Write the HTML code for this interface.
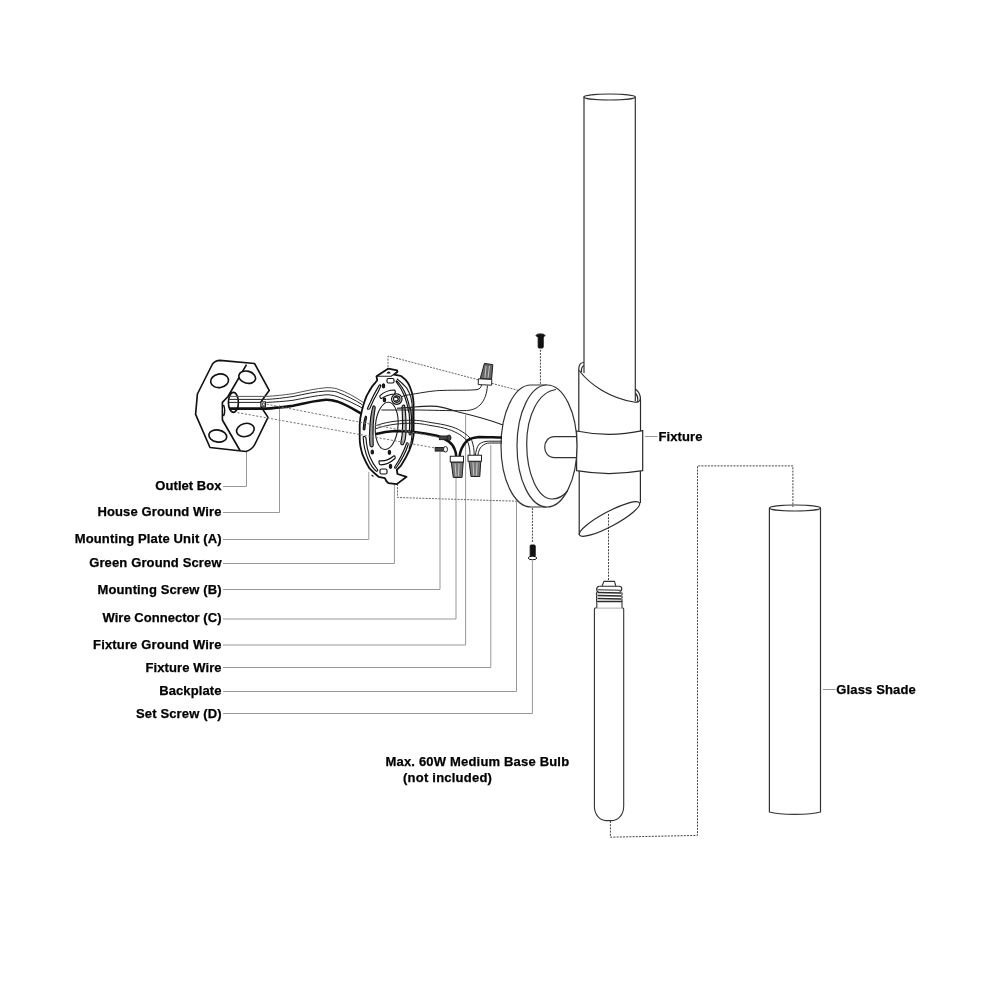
<!DOCTYPE html>
<html><head><meta charset="utf-8">
<style>
html,body{margin:0;padding:0;background:#fff;}
svg{display:block;will-change:transform;}
text{font-family:"Liberation Sans",sans-serif;font-weight:bold;font-size:13px;fill:#000;stroke:#000;stroke-width:0.25px;}
</style></head><body>
<svg width="1000" height="1000" viewBox="0 0 1000 1000">
<rect width="1000" height="1000" fill="#fff"/>

<!-- labels -->
<g text-anchor="end">
<text x="221.5" y="490" textLength="66.13" lengthAdjust="spacing">Outlet Box</text>
<text x="221.5" y="515.5" textLength="124.05" lengthAdjust="spacing">House Ground Wire</text>
<text x="221.5" y="542.5" textLength="146.80" lengthAdjust="spacing">Mounting Plate Unit (A)</text>
<text x="221.5" y="566.6" textLength="132.35" lengthAdjust="spacing">Green Ground Screw</text>
<text x="221.5" y="594" textLength="123.95" lengthAdjust="spacing">Mounting Screw (B)</text>
<text x="221.5" y="621.5" textLength="119.03" lengthAdjust="spacing">Wire Connector (C)</text>
<text x="221.5" y="648.5" textLength="128.46" lengthAdjust="spacing">Fixture Ground Wire</text>
<text x="221.5" y="671.5" textLength="75.92" lengthAdjust="spacing">Fixture Wire</text>
<text x="221.5" y="694.5" textLength="62.32" lengthAdjust="spacing">Backplate</text>
<text x="221.5" y="717.5" textLength="85.51" lengthAdjust="spacing">Set Screw (D)</text>
</g>
<text x="385.5" y="766" textLength="183.6" lengthAdjust="spacing">Max. 60W Medium Base Bulb</text>
<text x="403" y="782" textLength="88.9" lengthAdjust="spacing">(not included)</text>
<text x="658.4" y="441" textLength="44" lengthAdjust="spacing">Fixture</text>
<text x="836.2" y="694" textLength="79.6" lengthAdjust="spacing">Glass Shade</text>

<!-- leader lines -->
<g fill="none" stroke="#999" stroke-width="1">
<path d="M223,486.5H246.5V452"/>
<path d="M223,512.5H279.5V405"/>
<path d="M223,539.5H368.8V472"/>
<path d="M223,563.5H394.4V400"/>
<path d="M223,589.5H440V452"/>
<path d="M223,619H456V478"/>
<path d="M223,645H465.6V415"/>
<path d="M223,667.5H490.8V445"/>
<path d="M223,691.5H516.5V501"/>
<path d="M223,713.5H532.4V561"/>
<path d="M645,436.5H657.5"/>
<path d="M823,689.5H835.5"/>
</g>

<!-- dashed lines -->
<g fill="none" stroke="#666" stroke-width="1" stroke-dasharray="2,1.2">
<path d="M388,367V356L518.5,390.4"/>
<path d="M397.5,484V497.5L516,501.2"/>
</g>
<g fill="none" stroke="#444" stroke-width="1" stroke-dasharray="2,1.2">
<path d="M540.4,349.8V384"/>
<path d="M532.4,508V543"/>
<path d="M608.5,514V580"/>
<path d="M610.4,821V837.2L697.5,835.4V465.9H792.9V507"/>
</g>

<!-- top tube -->
<g fill="none" stroke="#333" stroke-width="1.2">
<path d="M584,97V373M635.3,97V401"/>
<ellipse cx="609.6" cy="97" rx="25.8" ry="3"/>
</g>

<!-- sleeve -->
<g fill="none" stroke="#2a2a2a" stroke-width="1.2">
<path d="M578.8,431V369C578.8,364.5 580.5,362.5 584,362.5"/>
<path d="M584,365.5C582,366.5 581.2,368.5 581.5,372"/>
<path d="M579.2,370.5C590,385 610,398 634,402C638,402.8 640.5,401 640.5,398"/>
<path d="M635.3,389C638.5,391.5 640.5,395 640.5,399V431"/>
<path d="M635.3,393C637.5,395.5 638.3,398.5 637.5,401.8"/>
</g>
<g fill="#fff" stroke="#2a2a2a" stroke-width="1.2">
<path d="M579.2,471V535 M640.4,471V503"/>
<path d="M576.6,431C598,435.5 620,435.5 642.7,430.7V470.7C620,474.5 598,474.5 576.6,470.7Z"/>
<ellipse cx="609.5" cy="519" rx="34" ry="7.3" fill="none" transform="rotate(-28.2 609.5 519)"/>
</g>

<!-- backplate -->
<g fill="#fff" stroke="#333" stroke-width="1.2">
<path d="M547,385H531C514.4,385 501,412.3 501,446C501,479.7 514.4,507 531,507H547"/>
<ellipse cx="547" cy="446" rx="30" ry="61"/>
<path fill="none" d="M556,389.5C538,392 526.7,416 526.7,444C526.7,474 538,499 552,499C558,499 563,496.5 567.5,491"/>
<path d="M576,436.7H554.5C548,436.7 544.7,442 544.7,447.2C544.7,452.5 548,457.7 554.5,457.7H576"/>
</g>

<!-- set screws -->
<g fill="#111" stroke="#111" stroke-width="1">
<rect x="538.2" y="336" width="5" height="12" rx="1"/>
<ellipse cx="540.5" cy="335.5" rx="4.4" ry="1.6"/>
<rect x="530.2" y="545" width="5" height="11.5" rx="1"/>
<ellipse cx="532.5" cy="558" rx="4.2" ry="1.8" fill="#fff"/>
</g>

<!-- bulb -->
<g fill="#fff" stroke="#333" stroke-width="1.1">
<path d="M594.4,609.5C594.4,608.3 595,607.8 596.5,607.8H621.5C623,607.8 623.7,608.3 623.7,609.5V806C623.7,815 618,820.6 612,820.6H606C600,820.6 594.4,815 594.4,806Z"/>
<path d="M596.8,607.8V601.5H622V607.8"/>
<path d="M602,586L604,581.4H614.5L615.8,586"/>
</g>
<g fill="none" stroke="#2a2a2a" stroke-width="1.1">
<path d="M599.5,586.3H619C621,586.3 621.8,587.5 621.8,589C621.8,590.5 621,591.3 619.5,591.3"/>
<path d="M599.5,586.3C597.5,586.5 596.6,587.5 596.6,589.5C596.6,591 597.5,591.8 598.5,592"/>
<path d="M597.5,589.7L620.5,590.2M597,592.2C596.3,593 596.3,594.6 597,595.3M621.5,592.4C622.3,593 622.3,594.6 621.5,595.3M597,595.4C596.3,596 596.3,597.6 597,598.4M621.5,595.6C622.3,596.2 622.3,597.8 621.5,598.5M597,598.5C596.3,599.2 596.3,600.8 597,601.5M621.5,598.6C622.3,599.3 622.3,600.9 621.5,601.5"/>
<path d="M597.5,592.4L621,593M597.5,595.5L621,596M597.5,598.5L621,599M597.5,601.5H621.5" stroke-width="1.5"/>
</g>

<!-- glass shade -->
<g fill="none" stroke="#333" stroke-width="1.2">
<path d="M769.4,508V812C780,815.2 810,815.2 820.5,812V508"/>
<ellipse cx="795" cy="508" rx="25.6" ry="3"/>
</g>

<!-- outlet box -->
<g fill="#fff" stroke="#111" stroke-width="1.65" stroke-linejoin="round">
<path d="M212.5,364C215,361 217,360.4 220,360.4L254.5,363.5L269.2,390.4L261.4,401.2V407.2L268,417.4L255,444C253,448 250,450.5 246,451.5L210,447.5L195.6,414.4L197.4,394Z"/>
<path d="M246.5,364.6L228,396.5L222.4,402.4V420L240,450.5"/>
<ellipse cx="219.6" cy="380.8" rx="9" ry="6.8" transform="rotate(-10 219.6 380.8)"/>
<ellipse cx="247.2" cy="377.2" rx="8.5" ry="6" transform="rotate(15 247.2 377.2)"/>
<ellipse cx="245.4" cy="430" rx="9" ry="6.5" transform="rotate(-15 245.4 430)"/>
<ellipse cx="217.8" cy="436" rx="9" ry="6" transform="rotate(10 217.8 436)"/>
<ellipse cx="233.4" cy="402.4" rx="5" ry="10"/>
<path d="M223.5,405C225,408 225,413 223.5,416" stroke-width="1.6"/>
</g>

<!-- cable from box -->
<g fill="none" stroke="#222" stroke-width="1">
<path d="M229,396.4H266.6C275,396 283,395 293,393.7C305,391 316,388.5 326,387.7C330,387.5 334,388 337,388.8C347,392 355,397 363.4,402.5" stroke="#555"/>
<path d="M229,399.4H266.6C275,399 283,398 293,396.5C305,394 316,391.5 326,391C330,391 334,391.2 337,392C347,396 355,400 362.3,404.7"/>
<path d="M229,402.4H266.6C275,402 283,401.5 293,400.3C305,398 316,395.5 326,394.8C330,394.6 334,395.5 337,396.5C347,400 355,404 362.3,408"/>
<path d="M229,408.6H266.6C275,408 283,407 293,405.8C305,403 316,400.5 326,399.8C330,399.7 334,400.5 337,401.4C347,405 355,410 361.2,413.5" stroke-width="2.6" stroke="#111"/>
</g>
<rect x="261" y="401.8" width="4.5" height="5" fill="#fff" stroke="#222" stroke-width="1"/>
<path d="M262.5,403.2h1.3a1.2,1.2 0 0 1 0,2.4h-1.3z" fill="none" stroke="#222" stroke-width="0.8"/>

<!-- mounting plate -->
<g fill="#fff" stroke="#111" stroke-width="1.8" stroke-linejoin="round">
<path d="M376.5,376.3L388.4,368.6L397.1,370.4L397.5,371.8L394,374.6C397,375 399,375.3 401,376C404,378 406,380 408,383C410,386 411,390 412.2,393.5C413,397 413.6,401 413.6,404V435.5C413,441 411.5,446 409.4,450.2C407,456 404,461 401,465.6L396.8,469.8L397.5,474L406.6,476.8L396.8,484.1L388.4,483.1L386.3,481L384.9,478.2L378.6,476.8C375,474 372,471 369.5,468.4C366,463 364,458 362.5,454.4C360.5,448 359.7,443 359.7,439V425C360,418 361,414 361.8,411C363,406 364,403 364.6,401.2C366,397 367.5,394 368.8,392.1C371,388 373,385 375.1,383L377.2,380.2Z"/>
</g>
<g fill="none" stroke="#1a1a1a" stroke-width="1.1">
<path d="M376.5,376.3L391.2,376.3L397.5,371.8"/>
<path d="M396.8,378.8C401,382 404,385 406.6,387.9C408.5,391 410,394 410.8,397C411.8,401 412.2,404 412.2,407.5V433C412,440 410.5,445 409,449"/>
<ellipse cx="386.7" cy="425.9" rx="11.3" ry="23.7" transform="rotate(5 386.7 425.9)"/>
<path d="M373.5,476.5L371.6,475" />
</g>
<g fill="#fff" stroke="#111" stroke-width="1.15">
<path d="M379.3,385.1C377,389 373,396 370,403C368.5,406 367.5,408 367.4,408.9C368,409.5 369.2,409.4 369.8,408.5C372,403 375,397 378,392C379.5,389 380.5,387 380.8,385.8C380.6,384.8 379.8,384.6 379.3,385.1Z"/>
<path d="M373,406.4C371.2,412 370,420 369.6,432C369.4,438 369.6,443 370.2,446C371,447.4 373,447 373.2,445.5C373,440 373,432 373.2,425C373.6,418 374.4,412 375.2,407.6C375,405.8 373.6,405.6 373,406.4Z" fill="#999"/>
<path d="M365.3,416.6C364,420 363.5,425 363.2,429.2C363.4,430 364.4,430.2 364.8,429.4C365.2,425 365.8,421 366.6,417C366.4,416 365.6,416 365.3,416.6Z" fill="#555"/>
<path d="M363.2,437C363.5,445 365.5,453 368,459C370.5,465 373.5,469 376.5,471.2C377.5,471.5 378,470.5 377.5,469.5C374.5,466 372,462 370,457C368,452 366.5,446 366,438C365.5,436.5 363.5,436 363.2,437Z"/>
<path d="M396.8,380.9C400,384 403.5,389 406,395C408,400 409.5,405 410,411C410.2,412 409,412.5 408.5,411.5C407.8,406 406.5,401 404.5,396C402.5,391 399.5,386 396.4,382.2C395.8,381.4 396.2,380.6 396.8,380.9Z"/>
<path d="M404.6,405.6C405.8,412 406.2,420 406,432C405.8,438 404.8,442 403.2,444.5C402,445.2 400.6,444.5 400.8,443.2C402,438 402.6,432 402.6,425C402.6,418 402.3,412 402,407C402.3,405 404,404.6 404.6,405.6Z" fill="#bbb"/>
<path d="M410.5,408.5C411.5,414 412,420 411.8,427C411.6,431 411.2,433 410.8,434.5C410,435.2 409,434.6 409.1,433.5C409.5,430 409.8,425 409.6,420C409.4,416 409,412 408.6,409.5C408.8,408 410,407.8 410.5,408.5Z" fill="#bbb"/>
<path d="M406.6,443.2C404,451 400,459 394.7,467C394.2,468 395.2,468.6 396,468C401,461 405.5,453 408.2,444.5C408.3,443 407,442.5 406.6,443.2Z"/>
<path d="M380,395.6C384,392 389,390 394.7,390C395.5,391 395.3,393 394.5,394C389.5,394.5 385,396 381.5,398.5C380.3,398.8 379.6,396.6 380,395.6Z"/>
<path d="M379.3,460.7C384,461.5 389,460 394,455.8C395,455.5 395.5,457.5 395,458.5C390,463 385,465 380.3,464.8C379,464.5 378.6,461.3 379.3,460.7Z"/>
<rect x="387" y="378.5" width="7" height="4.5" rx="1.5"/>
<rect x="380" y="469" width="7" height="5" rx="1.5"/>
<ellipse cx="383.5" cy="385.8" rx="1.2" ry="2" fill="#222"/>
<ellipse cx="384.5" cy="399.8" rx="1.2" ry="2" fill="#222"/>
<ellipse cx="372.3" cy="452" rx="1.2" ry="2" fill="#222"/>
<ellipse cx="389.4" cy="452.3" rx="1.2" ry="2" fill="#222"/>
<ellipse cx="390.5" cy="466.3" rx="1.2" ry="2" fill="#222"/>
<circle cx="396.8" cy="399.1" r="5.2" stroke-width="1.2"/>
<circle cx="396.8" cy="399.1" r="3.2" fill="none"/>
<path d="M395,397.5C396.5,396.5 398.5,397.5 398.2,399.5C398,401 396,401.5 395.2,400.5" fill="none" stroke-width="1.4"/>
<path d="M387.5,373C388.2,371.8 389.2,371.8 389.8,373Z" fill="#222"/>
</g>

<!-- wires inside hole / to backplate -->
<g fill="none" stroke="#222" stroke-width="1">
<path d="M402,396.5C405,395.5 407,395 410.6,394.6C425,392 435,390.5 443,390.4C455,390 470,390.5 477,389.6C480,389 481.4,387 481.4,385"/>
<path d="M487.4,385.6C487,393 485,400 480,405C476,409 471,410.6 464,410.6C450,411 430,410 414,410"/>
<path d="M381.4,410H414M397,408.2C402,408 408,407.5 414.2,407C425,406 432,405.8 437,406.4C445,407.5 452,410 457.4,411.8C475,416 490,420 503,425" stroke-width="1.1"/>
<path d="M376,425.6C385,422.5 395,420.5 410,420.2C420,420.2 425,421.5 431,422.6C445,424.5 455,427 461,431C466,434 470,437 471.8,440.6C473.5,445 474.2,450 474.2,455.5"/>
<path d="M376,428.6C385,425.5 395,423.5 410,423.2C420,423.2 425,424.5 431,425.6C445,427.5 453,430.5 459.8,434.6C464,437.5 467,440 468.2,443C469.5,447 470,451 470,455.5"/>
<path d="M475.4,455.5C475.8,451 477,447 479,444.2C482,442 485,441.3 488.6,441.2H502"/>
<path d="M477.8,455.5C478.5,451 480,448 481.4,446.6C484,444 487,443 489.8,443H502"/>
</g>
<g fill="none" stroke="#111" stroke-width="2.5">
<path d="M376,434C382,432.5 388,431.5 395,431C410,431 425,433 437,435.8C443,437.5 446,439.5 449,441.8C452,444 454,447 455,450.2C455.8,452 456.2,454 456.2,456.5"/>
<path d="M459.5,456.5C460,452 462,446 467,440.6C471,438 475,437.2 479,437C487,437 495,437.5 502,437.6"/>
</g>

<!-- wire connectors -->
<g stroke="#222" stroke-width="1">
<path d="M484.4,363.4L492.8,364.6L491.6,379.2L480.2,378.6Z" fill="#666"/>
<path d="M478.4,378.8L491.8,379.4L491.6,385.2L478.2,384.6Z" fill="#fff"/>
<path d="M451.25,462L463.25,462L462,477.5H453.25Z" fill="#777"/>
<rect x="450.25" y="456.25" width="13.25" height="5.75" fill="#fff"/>
<path d="M469,461.25L480.75,461.25L479.8,476.5H471Z" fill="#777"/>
<rect x="468" y="455.25" width="13.5" height="6" fill="#fff"/>
</g>
<g stroke="#ddd" stroke-width="0.8" fill="none">
<path d="M455,463.5L456,476M459,463.5L458.5,476M473,462.5L473.8,475.5M477,462.5L476.5,475.5M486,366L485,378M489.5,366L488,378"/>
</g>

<!-- mounting screws -->
<g stroke="#222" stroke-width="1">
<rect x="439.4" y="436" width="9" height="3.6" fill="#444"/>
<ellipse cx="449" cy="437.8" rx="2" ry="2.8" fill="#444"/>
<rect x="435.2" y="447.5" width="9.5" height="3.6" fill="#444"/>
<ellipse cx="445.5" cy="449.3" rx="2" ry="2.8" fill="#fff"/>
</g>

<!-- dashed lines on top -->
<g fill="none" stroke="#777" stroke-width="1" stroke-dasharray="2.2,1.6">
<path d="M237.4,412.6L435.2,448"/>
<path d="M266.6,404.2L439.4,437.5"/>
</g>

</svg>
</body></html>
